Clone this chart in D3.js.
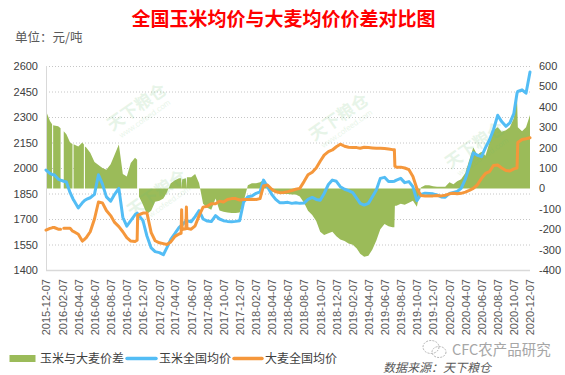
<!DOCTYPE html>
<html>
<head>
<meta charset="utf-8">
<script src="https://cdn.jsdelivr.net/npm/d3@7"></script>
<style>
  html, body { margin: 0; padding: 0; background: #ffffff; }
  svg { display: block; }
</style>
</head>
<body>
<svg id="chart" width="565" height="375"></svg>
<script>
// ---------------- DATA ----------------
const dates = [
  // 2015-12 .. 2016
  "2015-12-07","2015-12-22","2015-12-30","2016-01-01","2016-01-03","2016-01-07","2016-01-22","2016-01-31","2016-02-07","2016-02-12",
  "2016-02-22","2016-03-07","2016-03-16","2016-03-18","2016-03-20","2016-03-22","2016-04-07","2016-04-22","2016-04-28","2016-04-30",
  "2016-05-02","2016-05-07","2016-05-22","2016-06-07","2016-06-22","2016-07-07","2016-07-22","2016-08-07","2016-08-22","2016-09-07",
  "2016-09-22","2016-10-07","2016-10-22","2016-11-07","2016-11-15","2016-11-17","2016-11-22","2016-12-07","2016-12-22",
  // 2017
  "2017-01-07","2017-01-22","2017-02-07","2017-02-22","2017-03-07","2017-03-22","2017-04-07","2017-04-22","2017-04-30","2017-05-02",
  "2017-05-04","2017-05-07","2017-05-18","2017-05-20","2017-05-22","2017-06-07","2017-06-22","2017-07-07","2017-07-22","2017-08-07",
  "2017-08-22","2017-09-07","2017-09-22","2017-10-07","2017-10-22","2017-11-07","2017-11-22","2017-12-07","2017-12-22",
  // 2018
  "2018-01-07","2018-01-22","2018-02-07","2018-02-22","2018-03-07","2018-03-22","2018-04-07","2018-04-22","2018-05-07","2018-05-22",
  "2018-06-07","2018-06-22","2018-07-07","2018-07-22","2018-08-07","2018-08-22","2018-09-07","2018-09-22","2018-10-07","2018-10-22",
  "2018-11-07","2018-11-22","2018-12-07","2018-12-22",
  // 2019
  "2019-01-07","2019-01-22","2019-02-07","2019-02-22","2019-03-07","2019-03-22","2019-04-07","2019-04-22","2019-05-07","2019-05-22",
  "2019-06-07","2019-06-22","2019-07-07","2019-07-14","2019-07-16","2019-07-22","2019-08-07","2019-08-22","2019-09-07","2019-09-22",
  "2019-10-07","2019-10-22","2019-11-07","2019-11-22","2019-12-07","2019-12-22",
  // 2020
  "2020-01-07","2020-01-22","2020-02-07","2020-02-22","2020-03-07","2020-03-22","2020-04-07","2020-04-22","2020-05-07","2020-05-22",
  "2020-06-07","2020-06-22","2020-07-07","2020-07-22","2020-08-07","2020-08-22","2020-09-07","2020-09-22","2020-10-07","2020-10-19",
  "2020-10-22","2020-11-07","2020-11-22","2020-12-07"
];

// 玉米全国均价 (left axis, 元/吨)
const corn = [
  1988,1968,1962,1961,1960,1960,1935,1928,1925,1922,
  1918,1855,1825,1818,1812,1808,1765,1795,1805,1808,
  1810,1815,1825,1845,1960,1905,1830,1805,1845,1880,
  1710,1658,1690,1725,1735,1730,1720,1690,1600,
  1530,1508,1502,1490,1530,1580,1615,1650,1662,1664,
  1666,1670,1688,1690,1690,1684,1714,1749,1700,1688,
  1685,1720,1700,1690,1686,1684,1686,1690,1800,
  1831,1835,1851,1860,1929,1890,1845,1815,1796,1796,
  1798,1792,1796,1792,1794,1815,1827,1815,1810,1850,
  1903,1929,1922,1890,
  1875,1867,1855,1822,1792,1782,1792,1831,1870,1939,
  1945,1920,1920,1922,1924,1929,1939,1914,1920,1890,
  1808,1845,1852,1850,1848,1842,
  1830,1828,1850,1856,1862,1880,1935,2010,2090,2075,
  2067,2120,2165,2225,2310,2273,2245,2265,2320,2440,
  2450,2460,2440,2565
];

// 大麦全国均价 (left axis, 元/吨)
const barley = [
  1635,1645,1648,1650,1650,1650,1640,1640,null,1645,
  1645,1645,1630,1628,1626,1625,1610,1570,1578,1580,
  1583,1590,1625,1700,1800,1795,1750,1720,1680,1655,
  1625,1590,1570,1568,1575,1720,1725,1735,1735,
  1620,1572,1560,1555,1550,1565,1598,1612,1616,1755,
  1638,1640,1643,1770,1645,1640,1660,1720,1770,1775,
  1790,1790,1805,1800,1815,1820,1820,1812,1815,
  1815,1816,1815,1820,1895,1900,1875,1860,1855,1856,
  1861,1868,1875,1880,1920,1960,1975,2000,2040,2076,
  2096,2106,2125,2140,
  2128,2122,2120,2120,2116,2122,2120,2118,2116,2116,
  2115,2112,2108,2108,2010,2005,2005,2000,1990,1950,
  1880,1838,1836,1835,1836,1838,
  1836,1840,1848,1852,1848,1851,1858,1868,1880,1900,
  1939,1968,1978,2015,2018,2000,1985,1982,1995,2000,
  2150,2168,2172,2178
];

// 玉米与大麦价差 (right axis, 元/吨)
const spread = [
  380,330,315,null,310,308,305,295,null,280,
  265,225,218,null,216,215,205,225,215,null,
  205,200,175,130,115,100,92,118,165,215,
  70,58,125,150,140,null,-40,-80,-125,
  -110,-65,-60,-50,-20,25,40,50,50,0,
  45,45,50,0,55,55,70,25,-75,-95,
  -105,-50,-108,-115,-118,-120,-120,-118,-65,
  15,25,25,30,41,10,-15,-20,-25,-28,
  -28,-30,-30,-40,-70,-110,-130,-160,-212,-228,
  -220,-212,-235,-250,
  -258,-270,-276,-295,-320,-335,-330,-300,-255,-200,
  -175,-185,-190,-190,-85,-85,-75,-80,-70,-60,
  -90,5,15,15,10,8,
  8,8,30,20,35,45,75,140,200,165,
  180,160,225,285,300,278,285,300,345,445,
  300,280,300,360
];

const xTickLabels = [
  "2015-12-07","2016-02-07","2016-04-07","2016-06-07","2016-08-07","2016-10-07","2016-12-07",
  "2017-02-07","2017-04-07","2017-06-07","2017-08-07","2017-10-07","2017-12-07",
  "2018-02-07","2018-04-07","2018-06-07","2018-08-07","2018-10-07","2018-12-07",
  "2019-02-07","2019-04-07","2019-06-07","2019-08-07","2019-10-07","2019-12-07",
  "2020-02-07","2020-04-07","2020-06-07","2020-08-07","2020-10-07","2020-12-07"
];
const leftTicks = [1400, 1550, 1700, 1850, 2000, 2150, 2300, 2450, 2600];
const rightTicks = [-400, -300, -200, -100, 0, 100, 200, 300, 400, 500, 600];

const seriesNames = ["玉米与大麦价差", "玉米全国均价", "大麦全国均价"];
const titleText = "全国玉米均价与大麦均价价差对比图";
const unitText = "单位：元/吨";
const sourceText = "数据来源：天下粮仓";
const brandText = "CFC农产品研究";

// ---------------- DRAW ----------------
const parse = d3.timeParse("%Y-%m-%d");
const rows = dates.map((d, i) => ({ date: parse(d), corn: corn[i], barley: barley[i], spread: spread[i] }));

const plot = { left: 46, right: 530, top: 66, bottom: 270 };
const x = d3.scaleTime().domain([parse("2015-12-07"), parse("2020-12-07")]).range([plot.left, plot.right]);
const yL = d3.scaleLinear().domain([1400, 2600]).range([plot.bottom, plot.top]);
const yR = d3.scaleLinear().domain([-400, 600]).range([plot.bottom, plot.top]);

const svg = d3.select("#chart");
svg.append("rect").attr("width", 565).attr("height", 375).attr("fill", "#ffffff");

const numFont = "'Liberation Sans', Arial, 'Noto Sans CJK SC', sans-serif";
const cjkFont = "'Noto Sans CJK SC', 'Noto Sans', sans-serif";

// Title and unit
svg.append("text").attr("x", 283.5).attr("y", 26).attr("text-anchor", "middle")
  .attr("font-family", cjkFont).attr("font-size", 19).attr("font-weight", "bold")
  .attr("fill", "#ff0000").text(titleText);
svg.append("text").attr("x", 15).attr("y", 42)
  .attr("font-family", cjkFont).attr("font-size", 12.5).attr("fill", "#595959").text(unitText);

// Gridlines
svg.append("g").selectAll("line").data(leftTicks.filter(v => v !== 1400)).join("line")
  .attr("x1", plot.left).attr("x2", plot.right)
  .attr("y1", d => yL(d) + 0.5).attr("y2", d => yL(d) + 0.5)
  .attr("stroke", "#c6c6c6").attr("stroke-width", 1).attr("stroke-dasharray", "1,2");

// Spread area (right axis)
const area = d3.area()
  .defined(d => d.spread !== null)
  .x(d => x(d.date))
  .y0(yR(0))
  .y1(d => yR(d.spread));
svg.append("path").datum(rows).attr("d", area).attr("fill", "#9bbb59");

// Watermarks (faint)
const wm = [[140, 112], [342, 122], [160, 198], [478, 150]];
wm.forEach(([cx, cy]) => {
  const g = svg.append("g").attr("transform", `translate(${cx},${cy}) rotate(-35)`).attr("opacity", 0.16);
  g.append("text").attr("text-anchor", "middle").attr("font-family", cjkFont).attr("font-weight", "bold")
    .attr("font-size", 17).attr("fill", "#6fbf73").text("天下粮仓");
  g.append("text").attr("text-anchor", "middle").attr("y", 11).attr("font-family", numFont)
    .attr("font-size", 8).attr("fill", "#6fbf73").text("www.cofeed.com");
});

// Axis lines
svg.append("line").attr("x1", plot.left + 0.5).attr("x2", plot.left + 0.5)
  .attr("y1", plot.top).attr("y2", plot.bottom).attr("stroke", "#d9d9d9").attr("stroke-width", 1);
svg.append("line").attr("x1", plot.left).attr("x2", plot.right)
  .attr("y1", plot.bottom + 0.5).attr("y2", plot.bottom + 0.5).attr("stroke", "#d9d9d9").attr("stroke-width", 1.5);

// Lines
const lineCorn = d3.line().defined(d => d.corn !== null).x(d => x(d.date)).y(d => yL(d.corn));
const lineBarley = d3.line().defined(d => d.barley !== null).x(d => x(d.date)).y(d => yL(d.barley));
svg.append("path").datum(rows).attr("d", lineCorn).attr("fill", "none")
  .attr("stroke", "#53bdf5").attr("stroke-width", 3).attr("stroke-linejoin", "round").attr("stroke-linecap", "round");
svg.append("path").datum(rows).attr("d", lineBarley).attr("fill", "none")
  .attr("stroke", "#f5973b").attr("stroke-width", 3).attr("stroke-linejoin", "round").attr("stroke-linecap", "round");

// Left axis
const gL = svg.append("g").attr("transform", `translate(${plot.left},0)`)
  .call(d3.axisLeft(yL).tickValues(leftTicks).tickSize(0).tickPadding(8).tickFormat(d3.format("d")));
gL.select(".domain").remove();
gL.selectAll("text").attr("font-family", numFont).attr("font-size", 11).attr("fill", "#404040");

// Right axis
const gR = svg.append("g").attr("transform", `translate(${plot.right},0)`)
  .call(d3.axisRight(yR).tickValues(rightTicks).tickSize(0).tickPadding(9).tickFormat(d => String(d)));
gR.select(".domain").remove();
gR.selectAll("text").attr("font-family", numFont).attr("font-size", 11).attr("fill", "#404040");

// Bottom axis
const gB = svg.append("g").attr("transform", `translate(0,${plot.bottom})`)
  .call(d3.axisBottom(x).tickValues(xTickLabels.map(parse)).tickSize(0).tickFormat(d3.timeFormat("%Y-%m-%d")));
gB.select(".domain").remove();
gB.selectAll("text")
  .attr("transform", "rotate(-90)")
  .attr("x", -9).attr("y", 0).attr("dy", "0.35em")
  .style("text-anchor", "end")
  .attr("font-family", numFont).attr("font-size", 11).attr("fill", "#595959");

// Legend
const legY = 358.5;
svg.append("rect").attr("x", 9.5).attr("y", legY - 3.5).attr("width", 26).attr("height", 7).attr("fill", "#9bbb59");
svg.append("text").attr("x", 40).attr("y", legY).attr("dy", "0.36em").attr("font-family", cjkFont)
  .attr("font-size", 12).attr("fill", "#404040").text(seriesNames[0]);
svg.append("line").attr("x1", 127).attr("x2", 156).attr("y1", legY).attr("y2", legY)
  .attr("stroke", "#53bdf5").attr("stroke-width", 3.5).attr("stroke-linecap", "round");
svg.append("text").attr("x", 159).attr("y", legY).attr("dy", "0.36em").attr("font-family", cjkFont)
  .attr("font-size", 12).attr("fill", "#404040").text(seriesNames[1]);
svg.append("line").attr("x1", 234).attr("x2", 262).attr("y1", legY).attr("y2", legY)
  .attr("stroke", "#f5973b").attr("stroke-width", 3.5).attr("stroke-linecap", "round");
svg.append("text").attr("x", 265).attr("y", legY).attr("dy", "0.36em").attr("font-family", cjkFont)
  .attr("font-size", 12).attr("fill", "#404040").text(seriesNames[2]);

// Brand (WeChat-like icon + name) and source
const icon = svg.append("g").attr("transform", "translate(434,349)").attr("fill", "none")
  .attr("stroke", "#b5b5b5").attr("stroke-width", 1).attr("stroke-dasharray", "2,1.2");
icon.append("ellipse").attr("cx", -3).attr("cy", -2).attr("rx", 8).attr("ry", 6.5);
icon.append("ellipse").attr("cx", 5).attr("cy", 3).attr("rx", 7).attr("ry", 5.5);
svg.append("text").attr("x", 452).attr("y", 350).attr("dy", "0.36em").attr("font-family", cjkFont)
  .attr("font-size", 14.5).attr("fill", "#a6a6a6").text(brandText);
svg.append("text").attr("x", 383).attr("y", 368).attr("dy", "0.36em").attr("font-family", cjkFont)
  .attr("font-size", 12).attr("font-style", "italic").attr("fill", "#595959").text(sourceText);
</script>
</body>
</html>
